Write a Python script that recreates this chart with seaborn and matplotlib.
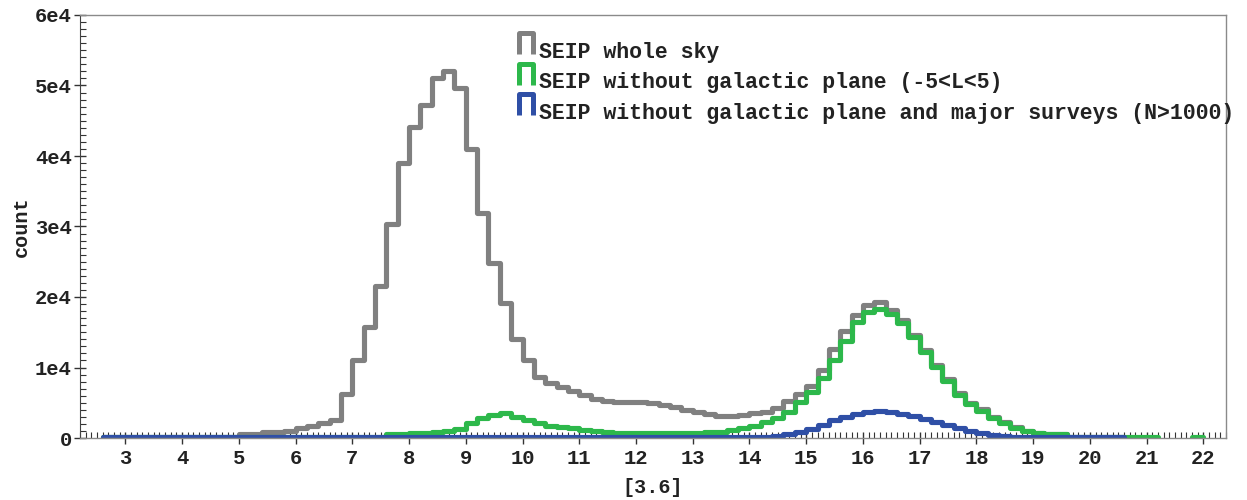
import numpy as np
import pandas as pd
import matplotlib
matplotlib.use("Agg")
import matplotlib.pyplot as plt
from matplotlib.lines import Line2D
from matplotlib.path import Path
from matplotlib.ticker import MultipleLocator, FuncFormatter
import seaborn as sns

# histogramas de [3.6] (bins de 0.2 mag a partir de 2.6)
bin_start = 2.6
bin_width = 0.2

whole_sky = [
    150, 150, 150, 150, 150, 150, 150, 150, 150, 150, 150, 150,      # 2.6 - 5.0
    600, 600, 800, 800, 1050,                                        # 5.0 - 6.0
    1350, 1700, 2100, 2600, 6300,                                    # 6.0 - 7.0
    11000, 15800, 21500, 30400, 39000,                               # 7.0 - 8.0
    44100, 47200, 51000, 52100, 49600,                               # 8.0 - 9.0
    41000, 31900, 24800, 19100, 14000,                               # 9.0 - 10.0
    11000, 8700, 7800, 7200, 6600,                                   # 10.0 - 11.0
    6100, 5600, 5300, 5150, 5150,                                    # 11.0 - 12.0
    5150, 4900, 4700, 4350, 4000,                                    # 12.0 - 13.0
    3650, 3400, 3150, 3150, 3200,                                    # 13.0 - 14.0
    3500, 3750, 4300, 5200, 6200,                                    # 14.0 - 15.0
    7400, 9700, 12600, 15200, 17500,                                 # 15.0 - 16.0
    18900, 19300, 18100, 16700, 14600,                               # 16.0 - 17.0
    12500, 10400, 8400, 6400, 5000,                                  # 17.0 - 18.0
    4100, 3000, 2200, 1500, 1050,                                    # 18.0 - 19.0
    750, 550, 500, 150, 150,                                         # 19.0 - 20.0
    150, 150, 150,                                                   # 20.0 - 20.6
]

no_plane = [
    150] * 25 + [                                                    # 2.6 - 7.6
    600, 600, 750, 750, 800,                                         # 7.6 - 8.6
    950, 1300, 2100, 2800, 3300,                                     # 8.6 - 9.6
    3550, 3000, 2600, 2100, 1700,                                    # 9.6 - 10.6
    1500, 1350, 1150, 950, 800,                                      # 10.6 - 11.6
    700, 700, 700, 700, 700, 700, 700, 700,                          # 11.6 - 13.2
    800, 900, 1100, 1350,                                            # 13.2 - 14.0
    1700, 2200, 2800, 3700, 5100,                                    # 14.0 - 15.0
    6500, 8500, 11000, 13800, 16400,                                 # 15.0 - 16.0
    17900, 18300, 17600, 16300, 14300,                               # 16.0 - 17.0
    12200, 10100, 8100, 6100, 4800,                                  # 17.0 - 18.0
    3900, 2800, 2100, 1400, 1000,                                    # 18.0 - 19.0
    700, 550, 500,                                                   # 19.0 - 19.6
    150, 150, 150, 150, 150, 150, 150, 150,                          # 19.6 - 21.2
]
no_plane_tail_start = 21.8
no_plane_tail = [150]                                                # 21.8 - 22.0

no_surveys = [
    150] * 59 + [                                                    # 2.6 - 14.4
    350, 550, 800, 1300, 1900,                                       # 14.4 - 15.4
    2500, 2950, 3350, 3650, 3850,                                    # 15.4 - 16.4
    3750, 3450, 3100, 2700, 2300,                                    # 16.4 - 17.4
    1800, 1400, 1000, 700, 450,                                      # 17.4 - 18.4
    300] + [150] * 10                                                # 18.4 - 20.6

labels = [
    "SEIP whole sky",
    "SEIP without galactic plane (-5<L<5)",
    "SEIP without galactic plane and major surveys (N>1000)",
]
colors = ["#808080", "#2db84b", "#2f4fa6"]

sns.set_style("ticks")
plt.rcParams["font.family"] = ["Liberation Mono", "DejaVu Sans"]

fig = plt.figure(figsize=(12.47, 5.0), dpi=100)
ax = fig.add_axes([80 / 1247, 1 - 438 / 500, (1226 - 80) / 1247, (438 - 15) / 500])


def desenha(start, counts, color):
    edges = start + bin_width * np.arange(len(counts) + 1)
    df = pd.DataFrame({"mag": (edges[:-1] + edges[1:]) / 2,
                       "n": np.asarray(counts, dtype=float)})
    sns.histplot(data=df, x="mag", weights="n", bins=list(edges), element="step",
                 fill=False, color=color, linewidth=3.7, ax=ax)


desenha(bin_start, whole_sky, colors[0])
desenha(bin_start, no_plane, colors[1])
desenha(no_plane_tail_start, no_plane_tail, colors[1])
desenha(bin_start, no_surveys, colors[2])

ax.set_xlim(2.2, 22.4)
ax.set_ylim(0, 60000)
ax.xaxis.set_major_locator(MultipleLocator(1))
ax.xaxis.set_minor_locator(MultipleLocator(0.1))
ax.yaxis.set_major_locator(MultipleLocator(10000))
ax.yaxis.set_minor_locator(MultipleLocator(1000))
ax.yaxis.set_major_formatter(FuncFormatter(lambda v, p: "0" if v == 0 else "%de4" % round(v / 1e4)))
ax.xaxis.set_major_formatter(FuncFormatter(lambda v, p: "%d" % round(v)))

ax.tick_params(which="major", direction="inout", length=9, width=1, color="#333333",
               labelsize=14.8, labelcolor="#222222")
ax.tick_params(axis="y", which="major", pad=1.5)
ax.tick_params(which="minor", direction="in", length=4, width=0.8, color="#333333")
for lab in ax.get_xticklabels() + ax.get_yticklabels():
    lab.set_fontweight("bold")

for side in ["top", "right", "bottom"]:
    ax.spines[side].set_color("#8a8a8a")
    ax.spines[side].set_linewidth(1)
ax.spines["left"].set_color("#444444")

ax.set_xlabel("[3.6]", fontsize=14.5, fontweight="bold", color="#222222", labelpad=7)
ax.set_ylabel("count", fontsize=14.5, fontweight="bold", color="#222222", labelpad=3)

# legenda com marcador em forma de degrau (deslocado para cima em relação ao texto)
pi_marker = Path([(-0.62, -0.4), (-0.62, 1.6), (0.62, 1.6), (0.62, -0.4)],
                 [Path.MOVETO, Path.LINETO, Path.LINETO, Path.LINETO])
handles = [Line2D([], [], linestyle="none", marker=pi_marker, markersize=25,
                  markeredgewidth=3.6, markerfacecolor="none", markeredgecolor=c)
           for c in colors]
leg = ax.legend(handles, labels, loc="upper left", bbox_to_anchor=(517 / 1247, 1 - 42 / 500),
                bbox_transform=fig.transFigure, frameon=False, borderpad=0, borderaxespad=0,
                handlelength=0.85, handletextpad=0.15, labelspacing=0.44,
                prop={"family": "Liberation Mono", "size": 15.5, "weight": "bold"})
for t in leg.get_texts():
    t.set_color("#222222")

fig.savefig("out.png", dpi=100)
